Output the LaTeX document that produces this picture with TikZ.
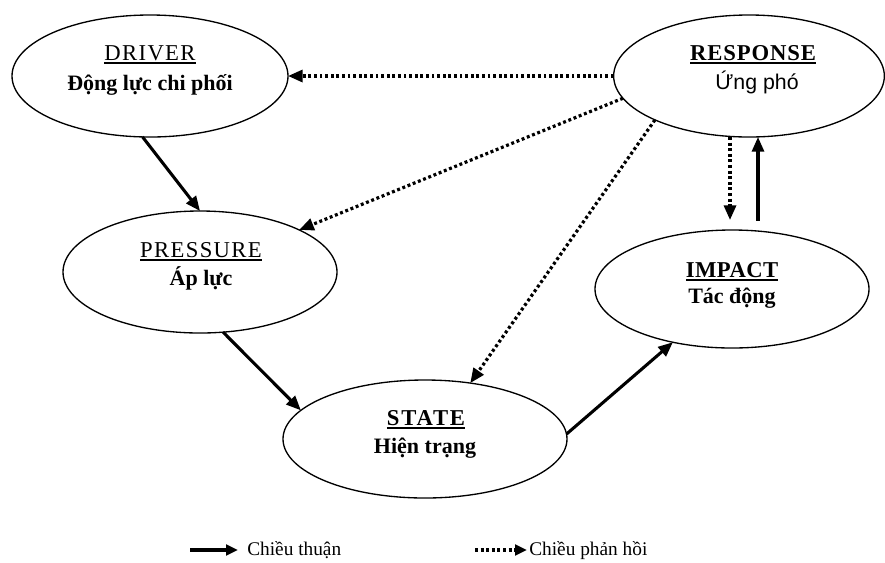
\documentclass[tikz,border=0pt]{standalone}
\usepackage{fontspec}
\setmainfont{Liberation Serif}
\newfontfamily\respfont{Liberation Sans}
\usetikzlibrary{shapes.geometric,arrows.meta}
\newcommand\ulbox[1]{\setbox0=\hbox{#1}\leavevmode\rlap{\rule[-3pt]{\wd0}{1.4pt}}\box0}
\begin{document}
\begin{tikzpicture}[x=0.75pt,y=-0.75pt,
 oval/.style={draw, line width=1pt, ellipse, inner sep=0pt, outer sep=0pt},
 ttl/.style={anchor=base, inner sep=0pt, font=\fontsize{17}{19}\selectfont\addfontfeatures{LetterSpace=6}},
 sub/.style={anchor=base, inner sep=0pt, font=\fontsize{16.5}{19}\selectfont\bfseries},
 fwd/.style={line width=2.3pt, -{Triangle[length=11pt,width=9pt]}},
 fb/.style={line width=2.4pt, dash pattern=on 2.2pt off 2pt, -{Triangle[length=11pt,width=9pt]}},
 lfwd/.style={line width=2.3pt, -{Triangle[length=9pt,width=8pt]}},
 lfb/.style={line width=2.4pt, dash pattern=on 2.2pt off 2pt, -{Triangle[length=9pt,width=8pt]}},
 leg/.style={anchor=base west, inner sep=0pt, font=\fontsize{14.5}{17}\selectfont},
]
\useasboundingbox (0,0) rectangle (885,562);
% ellipses
\node[oval, minimum width=207pt, minimum height=91.5pt] (D) at (150,76) {};
\node[oval, minimum width=203pt, minimum height=91.5pt] (R) at (749,76) {};
\node[oval, minimum width=205.5pt, minimum height=91.5pt] (P) at (200,272) {};
\node[oval, minimum width=205.5pt, minimum height=88.5pt] (I) at (732,289) {};
\node[oval, minimum width=213pt, minimum height=88.5pt] (S) at (425,439) {};
% texts
\node[ttl] (Dt) at (150,60) {\ulbox{DRIVER}};
\node[sub] (Ds) at (150,90) {Động lực chi phối};
\node[ttl, font=\fontsize{17}{19}\selectfont\bfseries\addfontfeatures{LetterSpace=4}] (Rt) at (753,60) {\ulbox{RESPONSE}};
\node[anchor=base, inner sep=0pt, font=\respfont\fontsize{16}{19}\selectfont] (Rs) at (757,89) {Ứng phó};
\node[ttl] (Pt) at (201,257) {\ulbox{PRESSURE}};
\node[sub] (Ps) at (201,285) {Áp lực};
\node[ttl, font=\fontsize{17}{19}\selectfont\bfseries\addfontfeatures{LetterSpace=2}] (It) at (732,277) {\ulbox{IMPACT}};
\node[sub] (Is) at (732,303) {Tác động};
\node[ttl, font=\fontsize{17}{19}\selectfont\bfseries\addfontfeatures{LetterSpace=8}] (St) at (426,425) {\ulbox{STATE}};
\node[sub] (Ss) at (425,453) {Hiện trạng};
% forward arrows
\draw[fwd] (D.263.5) -- (P.90);
\draw[fwd] (P.-69) -- (S.167.6);
\draw[fwd] (S.2.8) -- (I.222);
\coordinate (iu) at ([shift={(19.5pt,7pt)}]I.north);
\draw[fwd] (iu) -- (iu |- R.south);
% feedback arrows
\coordinate (rd) at ([xshift=-14.25pt]R.south);
\draw[fb, shorten >=7.5pt] (rd) -- (rd |- I.north);
\draw[fb] (R.180) -- (D.0);
\draw[fb] (R.190.7) -- (P.23.3);
\draw[fb] (R.205.2) -- (S.51.1);
% legend
\coordinate (la) at (190,550);
\coordinate (lb) at (238,550);
\draw[lfwd] (la) -- (lb);
\node[leg] (lt1) at (247,555) {Chiều thuận};
\coordinate (lc) at (475,550);
\coordinate (ld) at (527,550);
\draw[lfb] (lc) -- (ld);
\node[leg] (lt2) at (529,555) {Chiều phản hồi};
\end{tikzpicture}
\end{document}
